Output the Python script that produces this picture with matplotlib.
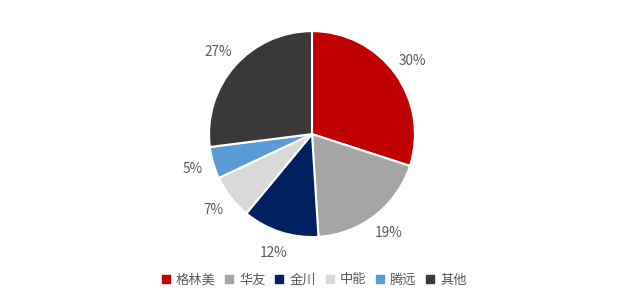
import matplotlib
matplotlib.use('Agg')
import matplotlib.pyplot as plt
from matplotlib.lines import Line2D

plt.rcParams['font.family'] = ['Noto Sans CJK SC', 'DejaVu Sans']

companies = ['格林美', '华友', '金川', '中能', '腾远', '其他']
shares = [30, 19, 12, 7, 5, 27]
colors = ['#C00000', '#A5A5A5', '#002060', '#D9D9D9', '#5B9BD5', '#3A3838']
text_color = '#595959'

fig = plt.figure(figsize=(6.24, 3.02), dpi=100)
ax = fig.add_axes([0.335, 0.215, 0.330, 0.682])

wedges, texts = ax.pie(shares, colors=colors, startangle=90, counterclock=False,
                       labels=[f'{v}%' for v in shares], labeldistance=1.21,
                       wedgeprops=dict(edgecolor='white', linewidth=1.5),
                       textprops=dict(color=text_color, fontsize=9.8))
for t in texts:
    t.set_horizontalalignment('center')
    t.set_verticalalignment('center')
ax.set_aspect('equal')
ax.set_xlim(-1, 1)
ax.set_ylim(-1, 1)

handles = [Line2D([], [], marker='s', linestyle='', markersize=5.5,
                  markerfacecolor=c, markeredgecolor=c) for c in colors]
fig.legend(handles, companies, loc='center', bbox_to_anchor=(0.503, 0.073),
           ncol=6, frameon=False, handlelength=0.7, handletextpad=0.4,
           columnspacing=0.7, labelcolor=text_color, fontsize=9.5)

fig.savefig('out.png', dpi=100, facecolor='white')
